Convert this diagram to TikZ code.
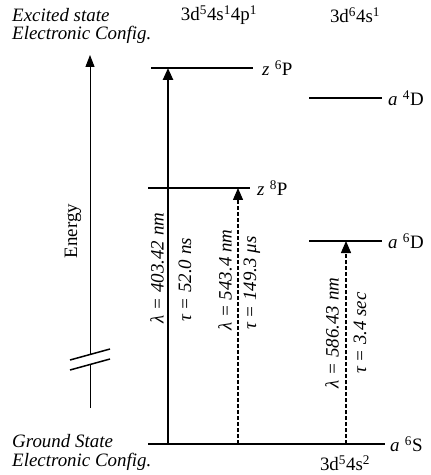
\documentclass[tikz,border=0pt]{standalone}
\usepackage{fontspec}
\setmainfont{Liberation Serif}
\usetikzlibrary{arrows.meta}
\begin{document}
\begin{tikzpicture}[x=1bp,y=-1bp,
  txt/.style={font=\fontsize{19}{21}\selectfont, inner sep=0pt},
  itxt/.style={txt, font=\fontsize{19}{21}\selectfont\itshape},
  rtxt/.style={itxt, rotate=90},
  level/.style={line width=1.4bp},
  ground/.style={line width=2.4bp},
  uparrow/.style={-{Triangle[width=10bp,length=12bp]}},
  solidup/.style={uparrow, line width=2.4bp},
  dashup/.style={uparrow, line width=1.3bp, dash pattern=on 4bp off 2bp},
  lvllab/.style={txt, anchor=west}
]
\useasboundingbox (0,0) rectangle (430,475);

% headers
\node[itxt, anchor=west] (exc1) at (12,15) {Excited state};
\node[itxt, anchor=west] (exc2) at (12,35) {Electronic Config.};
\node[txt] (cfgA) at (219,15) {3d\textsuperscript{5}4s\textsuperscript{1}4p\textsuperscript{1}};
\node[txt] (cfgB) at (355,15) {3d\textsuperscript{6}4s\textsuperscript{1}};
\node[itxt, anchor=west] (gs1) at (12,441) {Ground State};
\node[itxt, anchor=west] (gs2) at (12,462) {Electronic Config.};
\node[txt] (cfgC) at (345,463) {3d\textsuperscript{5}4s\textsuperscript{2}};

% levels
\coordinate (p6l) at (151,68);  \coordinate (p6r) at (253,68);
\coordinate (p8l) at (148,188); \coordinate (p8r) at (250,188);
\coordinate (d4l) at (309,98);  \coordinate (d4r) at (382,98);
\coordinate (d6l) at (309,241); \coordinate (d6r) at (382,241);
\coordinate (sl)  at (148,444); \coordinate (sr)  at (385,444);
\draw[level] (p6l) -- (p6r);
\draw[level] (p8l) -- (p8r);
\draw[level] (d4l) -- (d4r);
\draw[level] (d6l) -- (d6r);
\draw[ground] (sl) -- (sr);

\node[lvllab] (labP6) at ([xshift=9bp]p6r) {\textit{z}\;\textsuperscript{6}P};
\node[lvllab] (labP8) at ([xshift=7bp]p8r) {\textit{z}\;\textsuperscript{8}P};
\node[lvllab] (labD4) at ([xshift=6bp]d4r) {\textit{a}\;\textsuperscript{4}D};
\node[lvllab] (labD6) at ([xshift=6bp]d6r) {\textit{a}\;\textsuperscript{6}D};
\node[lvllab] (labS6) at ([xshift=5bp]sr) {\textit{a}\;\textsuperscript{6}S};

% transitions
\coordinate (g1) at (168,444); \coordinate (t1) at (168,68);
\coordinate (g2) at (238,444); \coordinate (t2) at (238,188);
\coordinate (g3) at (346,444); \coordinate (t3) at (346,241);
\draw[solidup] (g1) -- (t1);
\draw[dashup] (g2) -- (t2);
\draw[dashup] (g3) -- (t3);

\node[rtxt] (lam1) at (157,268) {λ = 403.42 nm};
\node[rtxt] (tau1) at (185,280) {τ = 52.0 ns};
\node[rtxt] (lam2) at (225,280) {λ = 543.4 nm};
\node[rtxt] (tau2) at (252,283) {τ = 149.3 μs};
\node[rtxt] (lam3) at (332,333) {λ = 586.43 nm};
\node[rtxt] (tau3) at (360,333) {τ = 3.4 sec};

% energy axis
\coordinate (eb) at (90,408); \coordinate (e1) at (90,364.5);
\coordinate (e2) at (90,354.5); \coordinate (et) at (90,55);
\draw[line width=1bp] (eb) -- (e1);
\draw[line width=1bp, -{Triangle[width=9bp,length=12bp]}] (e2) -- (et);
\coordinate (s1a) at (70,360); \coordinate (s1b) at (110,349);
\coordinate (s2a) at (70,370); \coordinate (s2b) at (110,359);
\draw[line width=1.5bp] (s1a) -- (s1b);
\draw[line width=1.5bp] (s2a) -- (s2b);
\node[txt, rotate=90] (energy) at (73,231) {Energy};
\end{tikzpicture}
\end{document}
